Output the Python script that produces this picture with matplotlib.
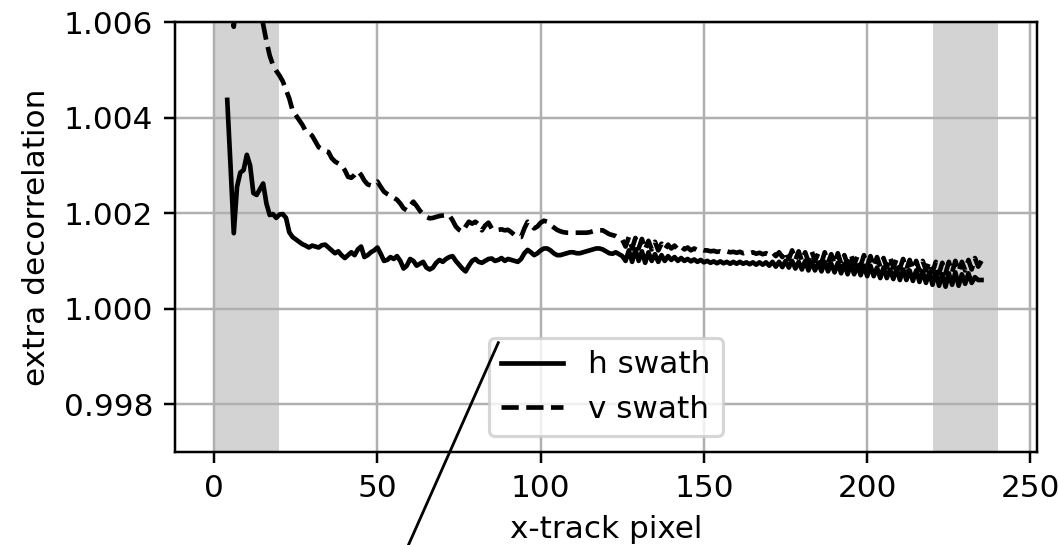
import numpy as np
import matplotlib
matplotlib.use("Agg")
import matplotlib.pyplot as plt
from matplotlib.lines import Line2D
from matplotlib.ticker import FormatStrFormatter

# cross-track pixel index of each sample
pixel_first = 4
pixel_last = 235

# extra decorrelation factor, horizontal swath
h_swath = [
    1.00437, 1.00300, 1.00158, 1.00255, 1.00285, 1.00290, 1.00322, 1.00300, 1.00242, 1.00238,
    1.00250, 1.00262, 1.00220, 1.00196, 1.00198, 1.00190, 1.00197, 1.00198, 1.00190, 1.00160,
    1.00150, 1.00145, 1.00140, 1.00135, 1.00132, 1.00128, 1.00132, 1.00130, 1.00128, 1.00133,
    1.00134, 1.00128, 1.00122, 1.00116, 1.00120, 1.00112, 1.00106, 1.00112, 1.00118, 1.00112,
    1.00124, 1.00130, 1.00108, 1.00112, 1.00118, 1.00122, 1.00128, 1.00115, 1.00100, 1.00102,
    1.00108, 1.00104, 1.00110, 1.00100, 1.00084, 1.00090, 1.00104, 1.00100, 1.00090, 1.00094,
    1.00098, 1.00086, 1.00082, 1.00086, 1.00096, 1.00102, 1.00098, 1.00104, 1.00108, 1.00110,
    1.00100, 1.00092, 1.00084, 1.00078, 1.00090, 1.00100, 1.00104, 1.00098, 1.00096, 1.00100,
    1.00104, 1.00105, 1.00100, 1.00102, 1.00106, 1.00100, 1.00104, 1.00102, 1.00100, 1.00098,
    1.00104, 1.00116, 1.00123, 1.00118, 1.00112, 1.00116, 1.00122, 1.00126, 1.00126, 1.00122,
    1.00116, 1.00112, 1.00112, 1.00114, 1.00116, 1.00118, 1.00118, 1.00116, 1.00116, 1.00118,
    1.00120, 1.00122, 1.00124, 1.00126, 1.00126, 1.00124, 1.00120, 1.00116, 1.00115, 1.00118,
    1.00114, 1.00110, 1.00100, 1.00122, 1.00098, 1.00124, 1.00100, 1.00120, 1.00096, 1.00118,
    1.00100, 1.00114, 1.00098, 1.00112, 1.00100, 1.00110, 1.00102, 1.00108, 1.00100, 1.00106,
    1.00100, 1.00104, 1.00099, 1.00103, 1.00098, 1.00102, 1.00097, 1.00100, 1.00096, 1.00099,
    1.00095, 1.00099, 1.00095, 1.00098, 1.00094, 1.00098, 1.00094, 1.00098, 1.00094, 1.00097,
    1.00093, 1.00097, 1.00092, 1.00097, 1.00092, 1.00097, 1.00090, 1.00098, 1.00088, 1.00098,
    1.00087, 1.00100, 1.00086, 1.00100, 1.00084, 1.00098, 1.00082, 1.00100, 1.00080, 1.00098,
    1.00080, 1.00096, 1.00078, 1.00098, 1.00078, 1.00094, 1.00076, 1.00096, 1.00074, 1.00094,
    1.00072, 1.00092, 1.00072, 1.00090, 1.00070, 1.00090, 1.00068, 1.00090, 1.00068, 1.00086,
    1.00064, 1.00086, 1.00064, 1.00082, 1.00062, 1.00084, 1.00060, 1.00082, 1.00060, 1.00080,
    1.00058, 1.00080, 1.00056, 1.00078, 1.00054, 1.00076, 1.00050, 1.00076, 1.00048, 1.00072,
    1.00046, 1.00074, 1.00050, 1.00076, 1.00048, 1.00072, 1.00052, 1.00074, 1.00054, 1.00066,
    1.00060, 1.00060,
]

# extra decorrelation factor, vertical swath
v_swath = [
    1.00660, 1.00630, 1.00590, 1.00660, 1.00700, 1.00720, 1.00710, 1.00690, 1.00670, 1.00640,
    1.00620, 1.00595, 1.00560, 1.00530, 1.00510, 1.00498, 1.00488, 1.00476, 1.00458, 1.00440,
    1.00415, 1.00405, 1.00395, 1.00385, 1.00372, 1.00368, 1.00362, 1.00350, 1.00338, 1.00334,
    1.00330, 1.00328, 1.00315, 1.00308, 1.00304, 1.00300, 1.00290, 1.00276, 1.00274, 1.00280,
    1.00288, 1.00280, 1.00268, 1.00260, 1.00258, 1.00262, 1.00266, 1.00255, 1.00245, 1.00240,
    1.00236, 1.00232, 1.00228, 1.00220, 1.00210, 1.00206, 1.00215, 1.00224, 1.00215, 1.00205,
    1.00198, 1.00192, 1.00189, 1.00190, 1.00192, 1.00194, 1.00195, 1.00196, 1.00196, 1.00185,
    1.00172, 1.00165, 1.00161, 1.00172, 1.00182, 1.00178, 1.00182, 1.00176, 1.00164, 1.00174,
    1.00180, 1.00168, 1.00164, 1.00165, 1.00166, 1.00164, 1.00165, 1.00160, 1.00154, 1.00150,
    1.00150, 1.00168, 1.00182, 1.00176, 1.00168, 1.00172, 1.00180, 1.00184, 1.00182, 1.00175,
    1.00170, 1.00165, 1.00162, 1.00160, 1.00159, 1.00159, 1.00159, 1.00159, 1.00159, 1.00159,
    1.00159, 1.00160, 1.00162, 1.00163, 1.00164, 1.00164, 1.00160, 1.00156, 1.00154, 1.00152,
    1.00148, 1.00144, 1.00130, 1.00150, 1.00126, 1.00148, 1.00126, 1.00146, 1.00124, 1.00142,
    1.00124, 1.00140, 1.00122, 1.00136, 1.00124, 1.00134, 1.00126, 1.00132, 1.00124, 1.00130,
    1.00124, 1.00128, 1.00122, 1.00126, 1.00122, 1.00124, 1.00122, 1.00122, 1.00120, 1.00121,
    1.00119, 1.00120, 1.00118, 1.00120, 1.00118, 1.00119, 1.00117, 1.00119, 1.00116, 1.00118,
    1.00116, 1.00118, 1.00115, 1.00117, 1.00114, 1.00116, 1.00113, 1.00118, 1.00110, 1.00118,
    1.00108, 1.00120, 1.00104, 1.00122, 1.00102, 1.00120, 1.00100, 1.00118, 1.00098, 1.00120,
    1.00100, 1.00116, 1.00096, 1.00118, 1.00096, 1.00114, 1.00094, 1.00116, 1.00094, 1.00112,
    1.00092, 1.00114, 1.00092, 1.00110, 1.00090, 1.00112, 1.00090, 1.00110, 1.00088, 1.00108,
    1.00088, 1.00106, 1.00086, 1.00108, 1.00086, 1.00104, 1.00084, 1.00104, 1.00082, 1.00102,
    1.00082, 1.00100, 1.00080, 1.00100, 1.00080, 1.00098, 1.00076, 1.00098, 1.00074, 1.00096,
    1.00074, 1.00098, 1.00076, 1.00100, 1.00078, 1.00098, 1.00080, 1.00102, 1.00082, 1.00106,
    1.00088, 1.00100,
]

# swath edges excluded from the analysis
masked_bands = [(0, 20), (220, 240)]

series_labels = ["h swath", "v swath"]
y_ticks = [0.998, 1.000, 1.002, 1.004, 1.006]
x_ticks = [0, 50, 100, 150, 200, 250]

pixels = np.arange(pixel_first, pixel_last + 1)

W, H, DPI = 1059, 545, 224
fig = plt.figure(figsize=(W / DPI, H / DPI), dpi=DPI)
ax = fig.add_axes([175 / W, 93 / H, 862 / W, 430 / H])

for lo, hi in masked_bands:
    ax.axvspan(lo, hi, color="lightgray", lw=0)

ax.plot(pixels, h_swath, color="black", ls="-", lw=1.5, label=series_labels[0])
ax.plot(pixels, v_swath, color="black", ls="--", lw=1.5, label=series_labels[1])

ax.set_xlim(-12, 252)
ax.set_ylim(0.997, 1.006)
ax.set_xticks(x_ticks)
ax.set_yticks(y_ticks)
ax.yaxis.set_major_formatter(FormatStrFormatter("%.3f"))
ax.grid(True)
ax.set_xlabel("x-track pixel")
ax.set_ylabel("extra decorrelation")
ax.legend(loc="lower center")

# leader line running from the legend corner out of the figure
fig.add_artist(Line2D([498.3 / W, 404.0 / W], [1 - 342.7 / H, 1 - 555.0 / H],
                      transform=fig.transFigure, color="black", lw=0.9,
                      clip_on=False))

fig.savefig("out.png", dpi=DPI)
